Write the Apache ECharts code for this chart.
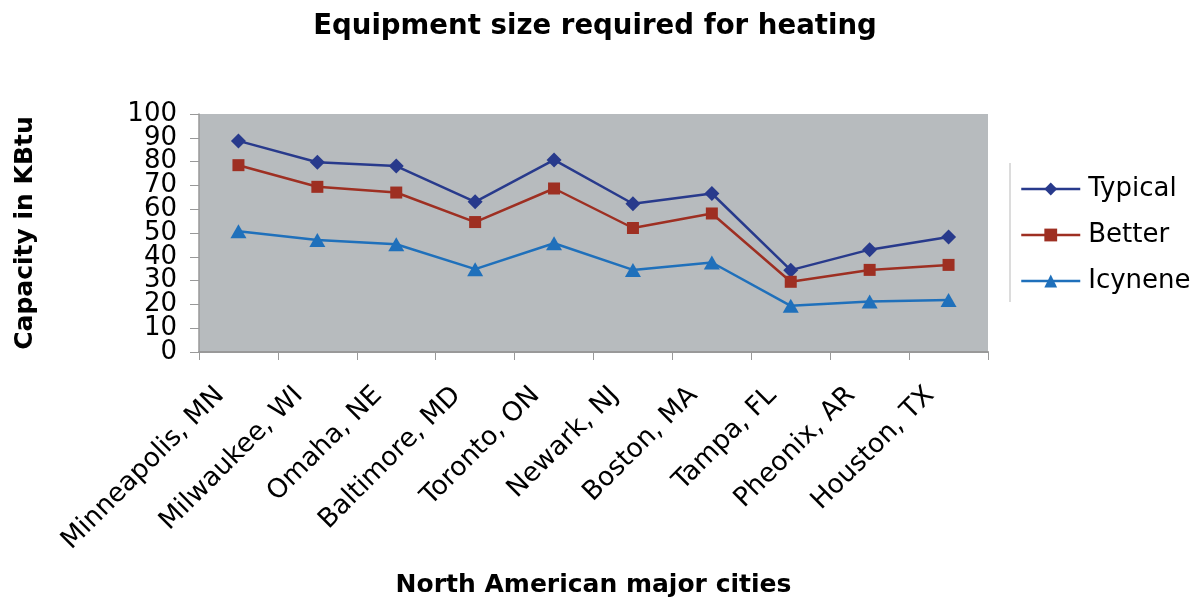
<!DOCTYPE html>
<html>
<head>
<meta charset="utf-8">
<script src="https://cdn.jsdelivr.net/npm/echarts@6/dist/echarts.min.js"></script>
<style>
  html, body { margin: 0; padding: 0; background: #fff; }
  #chart { width: 1195px; height: 603px; }
</style>
</head>
<body>
<div id="chart"></div>
<script>
// data
var cities = ['Minneapolis, MN', 'Milwaukee, WI', 'Omaha, NE', 'Baltimore, MD', 'Toronto, ON',
  'Newark, NJ', 'Boston, MA', 'Tampa, FL', 'Pheonix, AR', 'Houston, TX'];
var typical = [88.7, 79.7, 78.1, 63.1, 80.7, 62.3, 66.6, 34.4, 43.0, 48.3];
var better = [78.5, 69.4, 67.0, 54.6, 68.7, 52.1, 58.2, 29.5, 34.5, 36.6];
var icynene = [50.7, 47.1, 45.3, 34.8, 45.7, 34.5, 37.6, 19.4, 21.2, 21.9];
// y tick labels (value axis labels overlap at this size, so they sit on a category axis)
var yTicks = ['0', '10', '20', '30', '40', '50', '60', '70', '80', '90', '100'];

var font = 'DejaVu Sans';

var chartDom = document.getElementById('chart');
var myChart = echarts.init(chartDom);

var option = {
  animation: false,
  backgroundColor: '#fff',
  title: {
    text: 'Equipment size required for heating',
    left: 590,
    textAlign: 'center',
    top: 8,
    textStyle: { fontFamily: font, fontWeight: 'bold', fontSize: 27.6, color: '#000' }
  },
  grid: {
    left: 199, right: 207, top: 114, bottom: 251,
    containLabel: false,
    outerBoundsMode: 'none',
    show: true, backgroundColor: '#b7bbbe', borderWidth: 0
  },
  legend: {
    orient: 'vertical',
    left: 1020,
    top: 176,
    padding: 0,
    itemWidth: 59,
    itemHeight: 16,
    itemGap: 20,
    lineStyle: { width: 2.5 },
    textStyle: { fontFamily: font, fontSize: 26, color: '#000', padding: [0, 0, 0, 3] },
    data: ['Typical', 'Better', 'Icynene']
  },
  xAxis: {
    type: 'category',
    data: cities,
    boundaryGap: true,
    name: 'North American major cities',
    nameLocation: 'middle',
    nameGap: 221,
    nameTextStyle: { fontFamily: font, fontWeight: 'bold', fontSize: 25, color: '#000' },
    axisLine: { lineStyle: { color: '#999', width: 2 } },
    axisTick: { show: true, length: 8, lineStyle: { color: '#999' } },
    axisLabel: {
      rotate: 45,
      interval: 0,
      margin: 21,
      padding: [0, 26, 0, 0],
      fontFamily: font,
      fontSize: 26.5,
      color: '#000'
    }
  },
  yAxis: [
    {
      type: 'value',
      min: 0, max: 100, interval: 10,
      name: 'Capacity in KBtu',
      nameLocation: 'middle',
      nameGap: 161,
      nameTextStyle: { fontFamily: font, fontWeight: 'bold', fontSize: 25, color: '#000' },
      axisLine: { show: true, lineStyle: { color: '#999', width: 1.5 } },
      axisTick: { show: true, length: 9, lineStyle: { color: '#999' } },
      splitLine: { show: false },
      axisLabel: { show: false }
    },
    {
      type: 'category',
      data: yTicks,
      position: 'left',
      boundaryGap: false,
      axisLine: { show: false },
      axisTick: { show: false },
      splitLine: { show: false },
      axisLabel: { interval: 0, margin: 22, fontFamily: font, fontSize: 26, color: '#000' }
    }
  ],
  graphic: [{
    type: 'line',
    shape: { x1: 1010, y1: 163, x2: 1010, y2: 302 },
    style: { stroke: '#d0d0d0', lineWidth: 1.5 }
  }],
  series: [
    {
      name: 'Typical', type: 'line', data: typical,
      symbol: 'diamond', symbolSize: 15,
      itemStyle: { color: '#283a8c' },
      lineStyle: { color: '#283a8c', width: 2.5 }
    },
    {
      name: 'Better', type: 'line', data: better,
      symbol: 'rect', symbolSize: 12,
      itemStyle: { color: '#9e2f22' },
      lineStyle: { color: '#9e2f22', width: 2.5 }
    },
    {
      name: 'Icynene', type: 'line', data: icynene,
      symbol: 'triangle', symbolSize: [16, 14],
      itemStyle: { color: '#1f70bb' },
      lineStyle: { color: '#1f70bb', width: 2.5 }
    }
  ]
};

myChart.setOption(option);
</script>
</body>
</html>
